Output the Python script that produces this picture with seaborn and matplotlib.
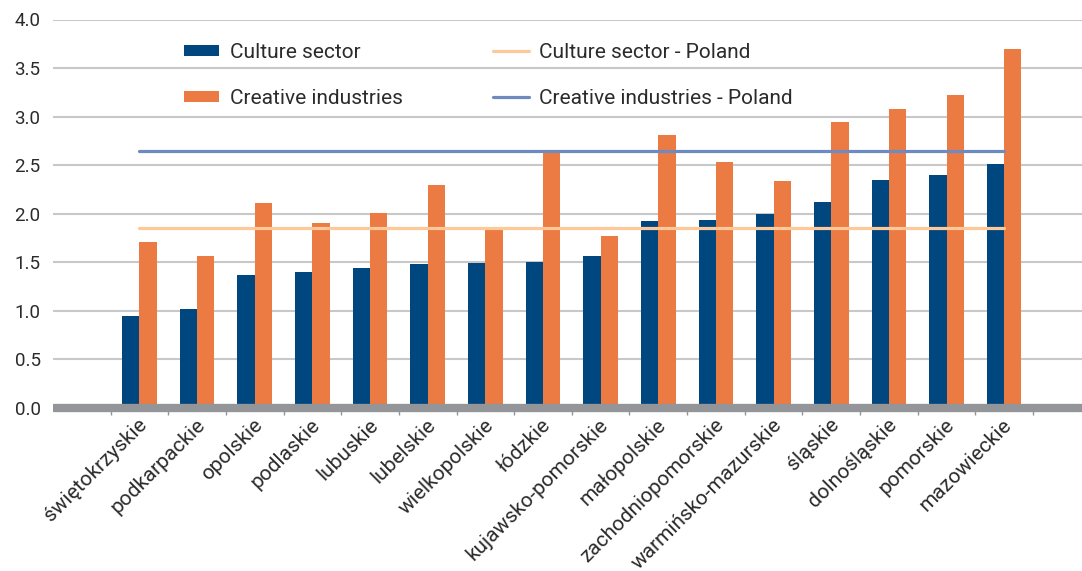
import numpy as np
import pandas as pd
import matplotlib
matplotlib.use("Agg")
import matplotlib.pyplot as plt
from matplotlib.transforms import ScaledTranslation
from matplotlib.patches import Patch
from matplotlib.lines import Line2D
import seaborn as sns

# Voivodeships, sorted by culture-sector share
regions = [
    "świętokrzyskie", "podkarpackie", "opolskie", "podlaskie", "lubuskie",
    "lubelskie", "wielkopolskie", "łódzkie", "kujawsko-pomorskie",
    "małopolskie", "zachodniopomorskie", "warmińsko-mazurskie", "śląskie",
    "dolnośląskie", "pomorskie", "mazowieckie",
]
culture_sector = [0.95, 1.02, 1.37, 1.40, 1.44, 1.48, 1.49, 1.50,
                  1.56, 1.93, 1.94, 2.00, 2.12, 2.35, 2.40, 2.51]
creative_industries = [1.71, 1.56, 2.11, 1.90, 2.01, 2.30, 1.85, 2.65,
                       1.77, 2.81, 2.53, 2.34, 2.94, 3.08, 3.22, 3.70]
culture_sector_poland = 1.85
creative_industries_poland = 2.65

bar_series = ["Culture sector", "Creative industries"]
line_series = ["Culture sector - Poland", "Creative industries - Poland"]
y_ticks = [0.0, 0.5, 1.0, 1.5, 2.0, 2.5, 3.0, 3.5, 4.0]

BLUE = "#00467F"
ORANGE = "#EC7A43"
PEACH = "#FFC898"
SLATE = "#6E8ABF"
GRID = "#C8C8C8"
AXIS_GREY = "#949599"
TEXT = "#2B2B2B"

sns.set_theme(style="white")
plt.rcParams["font.family"] = ["Roboto", "DejaVu Sans"]

W, H = 1082, 571
fig = plt.figure(figsize=(W / 100, H / 100), dpi=100)
ax = fig.add_axes([53 / W, (H - 408) / H, (W - 53) / W, (408 - 19.5) / H])

bars = pd.DataFrame({
    "region": regions * 2,
    "value": culture_sector + creative_industries,
    "series": [bar_series[0]] * len(regions) + [bar_series[1]] * len(regions),
})
sns.barplot(data=bars, x="region", y="value", hue="series",
            order=regions, hue_order=bar_series, palette=[BLUE, ORANGE],
            width=0.6, gap=0, saturation=1, legend=False, ax=ax,
            linewidth=0, edgecolor="none", zorder=2)

# National reference levels, spanning first to last region
levels = pd.DataFrame({
    "pos": list(range(len(regions))) * 2,
    "value": [culture_sector_poland] * len(regions)
             + [creative_industries_poland] * len(regions),
    "series": [line_series[0]] * len(regions) + [line_series[1]] * len(regions),
})
sns.lineplot(data=levels, x="pos", y="value", hue="series",
             hue_order=line_series, palette=[PEACH, SLATE], linewidth=2.3,
             legend=False, ax=ax, zorder=3)

ax.set_xlim(-1.5, 16.35)
ax.set_ylim(0, 4.0)
ax.set_yticks(y_ticks)
ax.set_yticklabels([f"{v:.1f}" for v in y_ticks])
ax.set_xlabel("")
ax.set_ylabel("")
for s in ax.spines.values():
    s.set_visible(False)

ax.yaxis.grid(True, color=GRID, linewidth=1.5)
ax.xaxis.grid(False)
ax.set_axisbelow(True)
ax.axhline(0, color=AXIS_GREY, linewidth=6, zorder=4, clip_on=False,
           solid_capstyle="butt")

ax.tick_params(axis="y", length=0, pad=9, labelsize=13.5, labelcolor=TEXT)
ax.set_xticks(range(len(regions)))
ax.set_xticklabels(regions)
ax.set_xticks(np.arange(-0.5, len(regions) + 0.5, 1), minor=True)
ax.tick_params(axis="x", which="major", length=0, pad=10, labelsize=15,
               labelcolor=TEXT)
ax.tick_params(axis="x", which="minor", length=5, width=1, color=AXIS_GREY,
               bottom=True)
shift = ScaledTranslation(5 / 100, 0, fig.dpi_scale_trans)
for lab in ax.get_xticklabels():
    lab.set_rotation(45)
    lab.set_ha("right")
    lab.set_va("center")
    lab.set_rotation_mode("anchor")
    lab.set_transform(lab.get_transform() + shift)

bar_handles = [Patch(facecolor=BLUE, linewidth=0),
               Patch(facecolor=ORANGE, linewidth=0)]
line_handles = [Line2D([], [], color=PEACH, linewidth=2.3),
                Line2D([], [], color=SLATE, linewidth=2.3)]
leg1 = fig.legend(bar_handles, bar_series, loc="upper left",
                  bbox_to_anchor=(184 / W, 1 - 43 / H), frameon=False,
                  fontsize=15, borderpad=0, borderaxespad=0,
                  handlelength=1.68, handleheight=0.4, handletextpad=0.53,
                  labelspacing=1.3, labelcolor=TEXT)
leg2 = fig.legend(line_handles, line_series, loc="upper left",
                  bbox_to_anchor=(493 / W, 1 - 43 / H), frameon=False,
                  fontsize=15, borderpad=0, borderaxespad=0,
                  handlelength=1.73, handletextpad=0.48,
                  labelspacing=1.3, labelcolor=TEXT)

fig.savefig("out.png", dpi=100)
